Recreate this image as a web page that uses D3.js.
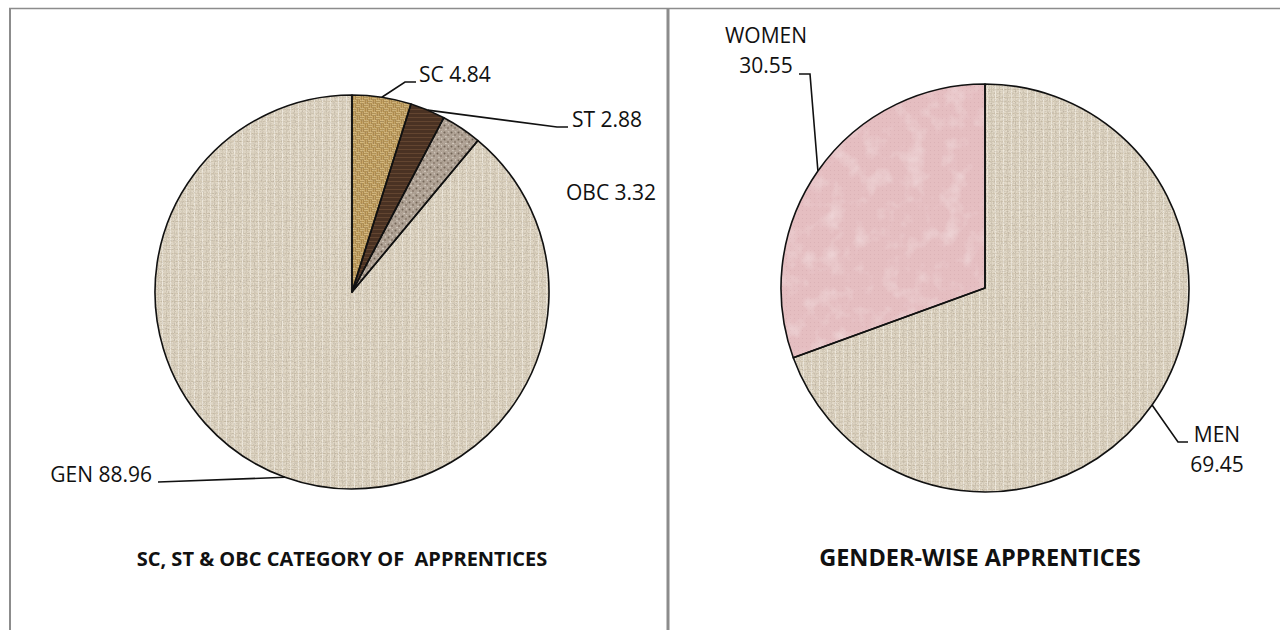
<!DOCTYPE html>
<html>
<head>
<meta charset="utf-8">
<script src="https://cdn.jsdelivr.net/npm/d3@7"></script>
<style>
  body { margin: 0; background: #fff; }
  text { font-family: "Open Sans", sans-serif; fill: #111; }
</style>
</head>
<body>
<svg id="chart" width="1280" height="630"></svg>
<script>
// share of apprentices by category (%)
var casteNames = ["SC", "ST", "OBC", "GEN"];
var casteValues = [4.84, 2.88, 3.32, 88.96];

// share of apprentices by gender (%)
var genderNames = ["MEN", "WOMEN"];
var genderValues = [69.45, 30.55];

var chartTitles = ["SC, ST & OBC CATEGORY OF  APPRENTICES", "GENDER-WISE APPRENTICES"];

var svg = d3.select("#chart");
var defs = svg.append("defs");
var fmt = d3.format(".2f");

// ---- textures ----
function grainFilter(id, freq, octaves, values) {
    var f = defs.append("filter").attr("id", id)
        .attr("x", 0).attr("y", 0).attr("width", 1).attr("height", 1);
    f.append("feTurbulence").attr("type", "fractalNoise")
        .attr("baseFrequency", freq).attr("numOctaves", octaves).attr("seed", 4)
        .attr("result", "noise");
    f.append("feColorMatrix").attr("in", "noise").attr("type", "matrix")
        .attr("values", values).attr("result", "tint");
    f.append("feComposite").attr("in", "tint").attr("in2", "SourceGraphic")
        .attr("operator", "in").attr("result", "tintIn");
    var m = f.append("feMerge");
    m.append("feMergeNode").attr("in", "SourceGraphic");
    m.append("feMergeNode").attr("in", "tintIn");
}
// fine dark grain
grainFilter("grain", 0.85, 2, "0 0 0 0 0.25  0 0 0 0 0.2  0 0 0 0 0.15  0 0 0 0.9 -0.35");
// soft light blotches
grainFilter("mottle", 0.05, 3, "0 0 0 0 1  0 0 0 0 0.97  0 0 0 0 0.97  0 0 0 0.7 -0.33");

function pattern(id, w, h) {
    return defs.append("pattern").attr("id", id)
        .attr("patternUnits", "userSpaceOnUse")
        .attr("width", w).attr("height", h);
}

// linen canvas
var linen = pattern("linen", 8, 8);
linen.append("rect").attr("width", 8).attr("height", 8).attr("fill", "#e2d9c8");
linen.append("rect").attr("y", 1).attr("width", 8).attr("height", 1).attr("fill", "#d4c9b4");
linen.append("rect").attr("y", 5).attr("width", 8).attr("height", 1).attr("fill", "#d8ceba");
linen.append("rect").attr("x", 2).attr("width", 1).attr("height", 8).attr("fill", "#eee8dc");
linen.append("rect").attr("x", 6).attr("width", 1).attr("height", 8).attr("fill", "#d6ccb9");

// burlap basket weave
var burlap = pattern("burlap", 8, 8);
burlap.append("rect").attr("width", 8).attr("height", 8).attr("fill", "#9f7b3a");
[[0, 0, "h"], [4, 0, "v"], [0, 4, "v"], [4, 4, "h"]].forEach(function (c) {
    for (var k = 0; k < 2; k++) {
        if (c[2] === "h")
            burlap.append("rect").attr("x", c[0]).attr("y", c[1] + k * 2).attr("width", 4).attr("height", 1.4).attr("fill", "#d6b97e");
        else
            burlap.append("rect").attr("x", c[0] + k * 2).attr("y", c[1]).attr("width", 1.4).attr("height", 4).attr("fill", "#caa96b");
    }
});

// dark brown stripes
var brown = pattern("brown", 6, 4);
brown.append("rect").attr("width", 6).attr("height", 4).attr("fill", "#4a3223");
brown.append("rect").attr("y", 1).attr("width", 6).attr("height", 1).attr("fill", "#634530");

// granite
var granite = pattern("granite", 7, 7);
granite.append("rect").attr("width", 7).attr("height", 7).attr("fill", "#b2a598");
granite.append("circle").attr("cx", 1.5).attr("cy", 1.5).attr("r", 1).attr("fill", "#6f6257");
granite.append("circle").attr("cx", 5).attr("cy", 4).attr("r", 0.9).attr("fill", "#857769");
granite.append("circle").attr("cx", 3).attr("cy", 5.5).attr("r", 0.8).attr("fill", "#ddd4c9");
granite.append("circle").attr("cx", 5.5).attr("cy", 0.8).attr("r", 0.7).attr("fill", "#d6ccc0");

// pink
var pink = pattern("pink", 4, 4);
pink.append("rect").attr("width", 4).attr("height", 4).attr("fill", "#e5bec1");
pink.append("rect").attr("x", 1).attr("y", 2).attr("width", 1).attr("height", 1).attr("fill", "#dbb2b6");

// ---- frame ----
svg.append("line").attr("x1", 9).attr("x2", 1280).attr("y1", 8.5).attr("y2", 8.5)
    .attr("stroke", "#8c8c8c").attr("stroke-width", 1.3);
svg.append("line").attr("x1", 10).attr("x2", 10).attr("y1", 8).attr("y2", 630)
    .attr("stroke", "#8c8c8c").attr("stroke-width", 2);
svg.append("line").attr("x1", 668).attr("x2", 668).attr("y1", 8).attr("y2", 630)
    .attr("stroke", "#8c8c8c").attr("stroke-width", 3);

// ---- pie drawing ----
function drawPie(names, values, cfg) {
    var pie = d3.pie().sort(null).value(function (d) { return d; });
    var arcs = pie(values);
    var arc = d3.arc().innerRadius(0).outerRadius(cfg.r);
    var edge = d3.arc().innerRadius(cfg.r).outerRadius(cfg.r);

    var g = svg.append("g").attr("transform", "translate(" + cfg.cx + "," + cfg.cy + ")");

    // textured fill, then grain on top, then outline
    g.selectAll("path.fill").data(arcs).enter().append("path")
        .attr("class", "fill")
        .attr("d", arc)
        .attr("fill", function (d, i) { return "url(#" + cfg.fills[i] + ")"; })
        .attr("filter", function (d, i) { return cfg.filters[i] ? "url(#" + cfg.filters[i] + ")" : null; });
    g.selectAll("path.edge").data(arcs).enter().append("path")
        .attr("class", "edge")
        .attr("d", arc)
        .attr("fill", "none")
        .attr("stroke", "#111")
        .attr("stroke-width", 1.6)
        .attr("stroke-linejoin", "round");

    // leader lines + labels
    arcs.forEach(function (d, i) {
        var lab = cfg.labels[i];
        var p = edge.centroid(d);
        var start = [cfg.cx + p[0], cfg.cy + p[1]];
        if (lab.pts) {
            svg.append("path")
                .attr("d", d3.line()([start].concat(lab.pts)))
                .attr("fill", "none")
                .attr("stroke", "#111")
                .attr("stroke-width", 1.6);
        }
        var t = svg.append("text")
            .attr("x", lab.x).attr("y", lab.y)
            .attr("text-anchor", lab.anchor)
            .style("font-size", "21px");
        if (lab.stack) {
            t.append("tspan").attr("x", lab.x).text(names[i]);
            t.append("tspan").attr("x", lab.x).attr("dy", 30).text(fmt(values[i]));
        } else {
            t.text(names[i] + " " + fmt(values[i]));
        }
    });

    svg.append("text")
        .attr("x", cfg.titleX).attr("y", 566)
        .attr("text-anchor", "middle")
        .style("font-size", cfg.titleSize)
        .style("font-weight", "bold")
        .style("white-space", "pre")
        .text(cfg.title);
}

drawPie(casteNames, casteValues, {
    cx: 352, cy: 292, r: 197,
    fills: ["burlap", "brown", "granite", "linen"],
    filters: ["grain", null, "grain", "grain"],
    title: chartTitles[0], titleX: 342, titleSize: "20px",
    labels: [
        { pts: [[405, 82], [416, 82]], x: 419, y: 82, anchor: "start" },
        { pts: [[557, 127], [568, 127]], x: 572, y: 127, anchor: "start" },
        { pts: null, x: 566, y: 200, anchor: "start" },
        { pts: [[158, 482]], x: 152, y: 482, anchor: "end" }
    ]
});

drawPie(genderNames, genderValues, {
    cx: 985, cy: 288, r: 204,
    fills: ["linen", "pink"],
    filters: ["grain", "mottle"],
    title: chartTitles[1], titleX: 980, titleSize: "23.5px",
    labels: [
        { pts: [[1178, 442], [1188, 442]], x: 1217, y: 442, anchor: "middle", stack: true },
        { pts: [[810, 74], [799, 74]], x: 766, y: 43, anchor: "middle", stack: true }
    ]
});
</script>
</body>
</html>
